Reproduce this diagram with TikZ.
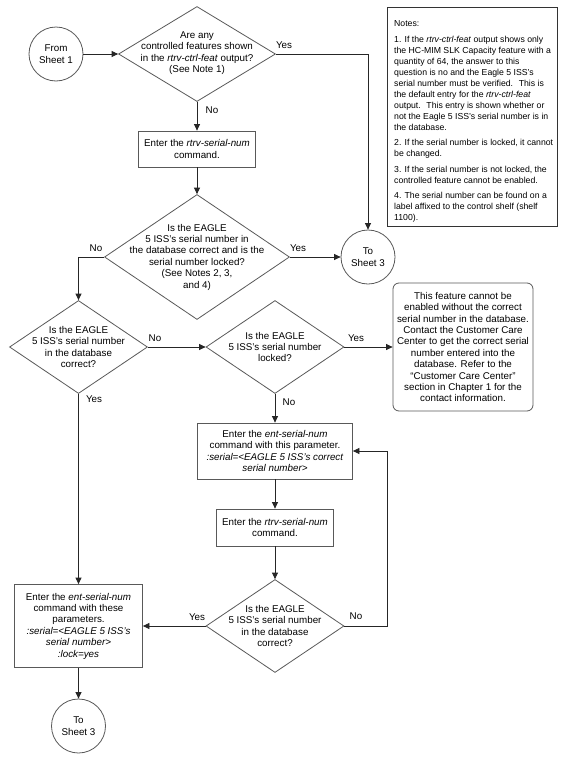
\documentclass[tikz,border=0pt]{standalone}
\usepackage{fontspec}
\setmainfont{Liberation Sans}
\usetikzlibrary{shapes.geometric,arrows.meta}
\begin{document}
\begin{tikzpicture}[x=1pt,y=-1pt,
  every node/.style={font=\fontsize{9.8}{11.4}\selectfont, inner sep=0pt},
  shp/.style={draw=black!65, line width=0.8pt},
  dia/.style={shp, diamond, minimum width=138pt, minimum height=93pt},
  box/.style={shp, rectangle, align=center},
  circ/.style={shp, circle, minimum size=54pt, align=center},
  txt/.style={align=center},
  conn/.style={draw=black!85, line width=0.8pt, -{Triangle[length=6.5pt,width=6pt]}}]
\useasboundingbox[fill=white] (0,0) rectangle (565,763);

% nodes
\node[circ] (s1) at (56,54) {From\\Sheet 1};
\node[dia, minimum width=157pt, minimum height=95pt] (d1) at (197,54) {};
\node[txt] (d1t) at (197,53) {Are any\\controlled features shown\\in the \textit{rtrv-ctrl-feat} output?\\(See Note 1)};
\node[box, minimum width=117pt, minimum height=36pt] (b1) at (197,149) {Enter the \textit{rtrv-serial-num}\\command.};
\node[dia, minimum width=185pt, minimum height=125pt] (d2) at (197,257) {};
\node[txt] (d2t) at (197,257) {Is the EAGLE\\5 ISS's serial number in\\the database correct and is the\\serial number locked?\\(See Notes 2, 3,\\and 4)};
\node[circ] (c3a) at (368,257) {To\\Sheet 3};

\node[dia] (d3) at (78.5,347) {};
\node[txt] (d3t) at (78.5,347) {Is the EAGLE\\5 ISS's serial number\\in the database\\correct?};
\node[dia] (d4) at (275,347) {};
\node[txt] (d4t) at (275,347) {Is the EAGLE\\5 ISS's serial number\\locked?};
\node[shp, rounded corners=6pt, minimum width=140pt, minimum height=128pt, align=center] (rb) at (463,347)
  {This feature cannot be\\enabled without the correct\\serial number in the database.\\Contact the Customer Care\\Center to get the correct serial\\number entered into the\\database. Refer to the\\``Customer Care Center''\\section in Chapter 1 for the\\contact information.};

\node[box, minimum width=155pt, minimum height=56pt] (b2) at (275,451)
  {Enter the \textit{ent-serial-num}\\command with this parameter.\\\textit{:serial=<EAGLE 5 ISS's correct}\\\textit{serial number>}};
\node[box, minimum width=117pt, minimum height=37pt] (b3) at (275,527.5) {Enter the \textit{rtrv-serial-num}\\command.};
\node[dia] (d5) at (275,626) {};
\node[txt] (d5t) at (275,626) {Is the EAGLE\\5 ISS's serial number\\in the database\\correct?};
\node[box, minimum width=128pt, minimum height=83pt] (b4) at (78.5,626)
  {Enter the \textit{ent-serial-num}\\command with these\\parameters.\\\textit{:serial=<EAGLE 5 ISS's}\\\textit{serial number>}\\\textit{:lock=yes}};
\node[circ] (c3b) at (78.5,726) {To\\Sheet 3};

% notes
\node[shp, draw=black!80, anchor=north west, minimum width=170pt, minimum height=219pt] (notes) at (387,7) {};
\node[anchor=north west, align=left, font=\fontsize{8.7}{11}\selectfont] (notestxt) at (394,20.5)
  {Notes:\\[4.5pt]
   1. If the \textit{rtrv-ctrl-feat} output shows only\\
   the HC-MIM SLK Capacity feature with a\\
   quantity of 64, the answer to this\\
   question is no and the Eagle 5 ISS's\\
   serial number must be verified.~ This is\\
   the default entry for the \textit{rtrv-ctrl-feat}\\
   output.~ This entry is shown whether or\\
   not the Eagle 5 ISS's serial number is in\\
   the database.\\[4.5pt]
   2. If the serial number is locked, it cannot\\
   be changed.\\[4.5pt]
   3. If the serial number is not locked, the\\
   controlled feature cannot be enabled.\\[4.5pt]
   4. The serial number can be found on a\\
   label affixed to the control shelf (shelf\\
   1100).};

% connectors
\coordinate (fb) at (387,626);
\draw[conn] (s1) -- (d1.west);
\draw[conn] (d1.east) -| (c3a.north);
\draw[conn] (d1.south) -- (b1.north);
\draw[conn] (b1.south) -- (d2.north);
\draw[conn] (d2.east) -- (c3a.west);
\draw[conn] (d2.west) -| (d3.north);
\draw[conn] (d3.east) -- (d4.west);
\draw[conn] (d4.east) -- (rb.west);
\draw[conn] (d4.south) -- (b2.north);
\draw[conn] (b2.south) -- (b3.north);
\draw[conn] (b3.south) -- (d5.north);
\draw[conn] (d5.west) -- (b4.east);
\draw[conn] (d5.east) -- (fb) |- (b2.east);
\draw[conn] (d3.south) -- (b4.north);
\draw[conn] (b4.south) -- (c3b.north);

% labels
\node (l1) at (284,45) {Yes};
\node (l2) at (212,110) {No};
\node (l3) at (96,248) {No};
\node (l4) at (298,248) {Yes};
\node (l5) at (155,338) {No};
\node (l6) at (94,399) {Yes};
\node (l7) at (356,338) {Yes};
\node (l8) at (289,402) {No};
\node (l9) at (197,617) {Yes};
\node (l10) at (356,616) {No};
\end{tikzpicture}
\end{document}
